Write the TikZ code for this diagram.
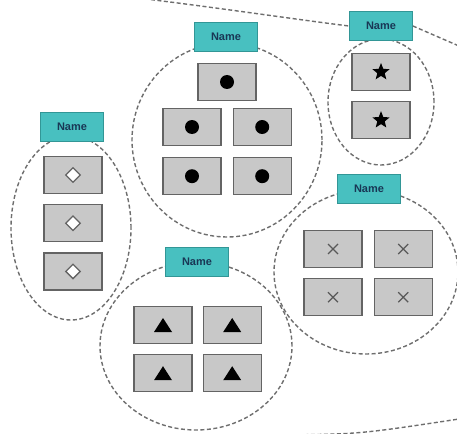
\documentclass[tikz,border=0pt]{standalone}
\usepackage{fontspec}
\setmainfont{Liberation Sans}
\usepackage{tikz}
\usetikzlibrary{positioning,shapes.geometric}

\definecolor{tealfill}{RGB}{72,192,192}
\definecolor{tealline}{RGB}{50,150,150}
\definecolor{nametext}{RGB}{25,55,85}
\definecolor{boxfill}{RGB}{200,200,200}
\definecolor{boxline}{RGB}{100,100,100}
\definecolor{dashgray}{RGB}{110,110,110}

\begin{document}
\begin{tikzpicture}[x=1pt,y=-1pt,node distance=10pt]

  % styles
  \tikzstyle{namelabel}=[draw=tealline,fill=tealfill,line width=0.8pt,minimum width=63pt,minimum height=29pt,inner sep=0pt,text=nametext,font=\fontsize{11}{12}\selectfont\bfseries]
  \tikzstyle{member}=[draw=boxline,fill=boxfill,line width=1.2pt,minimum width=58pt,minimum height=37pt,inner sep=0pt]
  \tikzstyle{dotbox}=[member,path picture={\fill[black] (path picture bounding box.center) circle (7pt);}]
  \tikzstyle{starbox}=[member,path picture={\node[anchor=center,star,star points=5,star point ratio=2.3,fill=black,inner sep=0pt,minimum size=18pt] at (path picture bounding box.center) {};}]
  \tikzstyle{diamondbox}=[member,path picture={\node[anchor=center,diamond,draw=boxline,fill=white,line width=1.3pt,inner sep=0pt,minimum size=15pt] at (path picture bounding box.center) {};}]
  \tikzstyle{tribox}=[member,path picture={\fill[black] ([shift={(0pt,7pt)}]path picture bounding box.center) -- ++(9pt,-14pt) -- ++(-18pt,0pt) -- cycle;}]
  \tikzstyle{crossbox}=[member,path picture={\draw[black!65,line width=1.2pt] ([shift={(-5pt,-5pt)}]path picture bounding box.center) -- ++(10pt,10pt) ([shift={(-5pt,5pt)}]path picture bounding box.center) -- ++(10pt,-10pt);}]
  \tikzstyle{group}=[ellipse,draw=dashgray,line width=1.4pt,dash pattern=on 4pt off 2.5pt,inner sep=0pt]
  \tikzstyle{link}=[draw=dashgray,line width=1.4pt,dash pattern=on 4pt off 2.5pt]

  \useasboundingbox (0,0) rectangle (457,433);

  % groups
  \node[group,minimum width=120pt,minimum height=184pt] (gleft) at (71,228) {};
  \node[group,minimum width=190pt,minimum height=194pt] (gcirc) at (227,140) {};
  \node[group,minimum width=106pt,minimum height=126pt] (gstar) at (381,102) {};
  \node[group,minimum width=184pt,minimum height=164pt] (gcross) at (366,272) {};
  \node[group,minimum width=192pt,minimum height=168pt] (gtri) at (196,346) {};

  % outer lines
  \coordinate (topin) at (138,-2);
  \coordinate (topout) at (459,46);
  \coordinate (botin) at (285,435);
  \coordinate (botout) at (459,419);

  % labels
  \node[namelabel] (ncirc) at (226,37) {Name};
  \node[namelabel] (nstar) at (381,26) {Name};
  \node[namelabel] (nleft) at (72,127) {Name};
  \node[namelabel] (ncross) at (369,189) {Name};
  \node[namelabel] (ntri) at (197,262) {Name};

  \draw[link] (topin) .. controls (220,8) and (300,20) .. (nstar.west);
  \draw[link] (nstar.east) -- (topout);
  \draw[link] (botin) .. controls (360,434) .. (botout);

  % circles
  \node[dotbox] (c1) at (227,82) {};
  \node[dotbox] (c2) at (192,127) {};
  \node[dotbox] (c3) [right=11pt of c2] {};
  \node[dotbox] (c4) [below=11pt of c2] {};
  \node[dotbox] (c5) [right=11pt of c4] {};

  % stars
  \node[starbox] (s1) at (381,72) {};
  \node[starbox] (s2) [below=10pt of s1] {};

  % diamonds
  \node[diamondbox] (d1) at (73,175) {};
  \node[diamondbox] (d2) [below=10pt of d1] {};
  \node[diamondbox] (d3) [below=10pt of d2] {};

  % crosses
  \node[crossbox] (x1) at (333,249) {};
  \node[crossbox] (x2) [right=11pt of x1] {};
  \node[crossbox] (x3) [below=10pt of x1] {};
  \node[crossbox] (x4) [right=11pt of x3] {};

  % triangles
  \node[tribox] (t1) at (163,325) {};
  \node[tribox] (t2) [right=10pt of t1] {};
  \node[tribox] (t3) [below=10pt of t1] {};
  \node[tribox] (t4) [right=10pt of t3] {};

\end{tikzpicture}
\end{document}
